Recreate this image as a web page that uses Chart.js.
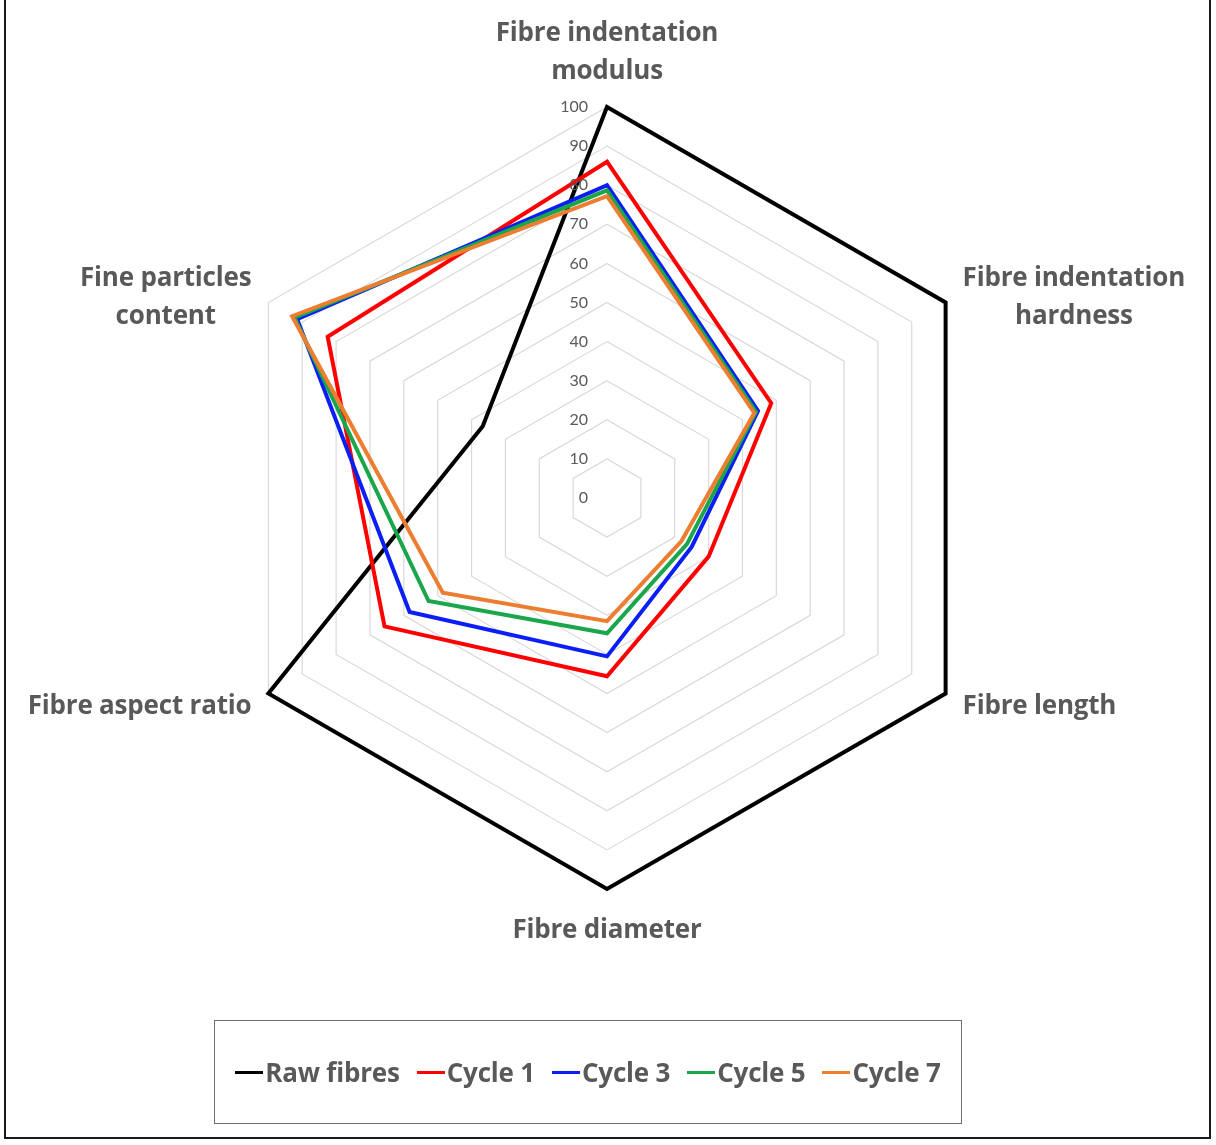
<!DOCTYPE html>
<html>
<head>
<meta charset="utf-8">
<title>Fibre properties radar</title>
<script src="https://cdn.jsdelivr.net/npm/chart.js@4/dist/chart.umd.min.js"></script>
<style>
  html, body { margin: 0; padding: 0; background: #fff; }
  #wrap { position: relative; width: 1216px; height: 1145px; overflow: hidden; font-family: "Open Sans", Lato, sans-serif; }
  #frame { position: absolute; left: 4px; top: -4px; width: 1207px; height: 1143px; border: 2px solid #1a1a1a; box-sizing: border-box; pointer-events: none; }
  #chart { position: absolute; left: 0; top: 0; }
  #legend { position: absolute; left: 214px; top: 1020px; width: 748px; height: 104px; box-sizing: border-box;
            border: 1px solid #6f6f6f; display: flex; align-items: center; justify-content: center; gap: 17px; }
  .item { display: flex; align-items: center; font-weight: bold; font-size: 26px; color: #595959; letter-spacing: -0.2px; }
  .swatch { width: 28px; height: 3px; margin-right: 2px; }
</style>
</head>
<body>
<div id="wrap">
  <canvas id="chart" width="1216" height="1145"></canvas>
  <div id="legend"></div>
  <div id="frame"></div>
</div>
<script>
// Axis categories (multi-line labels)
const categories = [
  ['Fibre indentation', 'modulus'],
  ['Fibre indentation', 'hardness'],
  ['Fibre length'],
  ['Fibre diameter'],
  ['Fibre aspect ratio'],
  ['Fine particles', 'content']
];

// Radial tick labels
const tickLabels = [0, 10, 20, 30, 40, 50, 60, 70, 80, 90, 100];

// Series values, one per category
const rawFibres = [100, 100, 100, 100, 100, 36.7];
const cycle1    = [86, 48.5, 30, 45.6, 65.7, 82.5];
const cycle3    = [80, 44.6, 25, 40.5, 58.3, 91.5];
const cycle5    = [78.7, 44, 23.6, 34.6, 52.7, 92.3];
const cycle7    = [77.2, 43.5, 22, 31.5, 48.5, 93];

const seriesNames  = ['Raw fibres', 'Cycle 1', 'Cycle 3', 'Cycle 5', 'Cycle 7'];
const seriesValues = [rawFibres, cycle1, cycle3, cycle5, cycle7];
const seriesColors = ['#000000', '#ff0000', '#0a1ef5', '#1aa64a', '#ed7d31'];

const TEXT = '#595959';

// Tick labels to the left of the vertical axis
const tickLabelPlugin = {
  id: 'tickLabelsLeft',
  afterDatasetsDraw(chart) {
    const s = chart.scales.r;
    const ctx = chart.ctx;
    ctx.save();
    ctx.font = '16px Lato, "DejaVu Sans", sans-serif';
    ctx.fillStyle = TEXT;
    ctx.textAlign = 'right';
    ctx.textBaseline = 'middle';
    tickLabels.forEach(v => {
      const y = s.yCenter - s.getDistanceFromCenterForValue(v);
      ctx.fillText(String(v), s.xCenter - 19, y);
    });
    ctx.restore();
  }
};

// Category labels around the outer ring
const categoryLabelPlugin = {
  id: 'categoryLabels',
  afterDraw(chart) {
    const s = chart.scales.r;
    const ctx = chart.ctx;
    const lh = 38;
    ctx.save();
    ctx.font = 'bold 26px "Open Sans", Lato, sans-serif';
    if ('letterSpacing' in ctx) ctx.letterSpacing = '-0.2px';
    ctx.fillStyle = TEXT;
    ctx.textBaseline = 'middle';
    ctx.textAlign = 'center';
    chart.data.labels.forEach((lines, i) => {
      const p = s.getPointPosition(i, s.drawingArea);
      const n = lines.length;
      const maxW = Math.max(...lines.map(t => ctx.measureText(t).width));
      const dx = p.x - s.xCenter;
      const dy = p.y - s.yCenter;
      let cx, firstY;
      if (Math.abs(dx) < 1) {
        cx = p.x;
        firstY = dy < 0 ? p.y - 35 - (n - 1) * lh : p.y + 42;
      } else {
        cx = dx > 0 ? p.x + 17 + maxW / 2 : p.x - 17 - maxW / 2;
        const midY = dy < 0 ? p.y - 5 : p.y + 13;
        firstY = midY - (n - 1) * lh / 2;
      }
      lines.forEach((t, k) => ctx.fillText(t, cx, firstY + k * lh));
    });
    ctx.restore();
  }
};

const datasets = seriesNames.map((name, i) => ({
  label: name,
  data: seriesValues[i],
  borderColor: seriesColors[i],
  backgroundColor: seriesColors[i],
  borderWidth: 4,
  borderJoinStyle: 'miter',
  pointRadius: 0,
  pointHoverRadius: 0,
  fill: false,
  order: seriesNames.length - i
}));

new Chart(document.getElementById('chart'), {
  type: 'radar',
  data: { labels: categories, datasets },
  options: {
    responsive: false,
    animation: false,
    devicePixelRatio: 1,
    layout: { padding: { left: 216, right: 218, top: 107, bottom: 256 } },
    plugins: { legend: { display: false }, tooltip: { enabled: false } },
    elements: { line: { tension: 0 } },
    scales: {
      r: {
        min: 0,
        max: 100,
        ticks: { display: false, stepSize: 10 },
        pointLabels: { display: false },
        angleLines: { display: false },
        grid: { color: '#d9d9d9', lineWidth: 1.2 }
      }
    }
  },
  plugins: [tickLabelPlugin, categoryLabelPlugin]
});

// Legend box built from the series
const legend = document.getElementById('legend');
seriesNames.forEach((name, i) => {
  const item = document.createElement('div');
  item.className = 'item';
  const sw = document.createElement('span');
  sw.className = 'swatch';
  sw.style.background = seriesColors[i];
  const tx = document.createElement('span');
  tx.textContent = name;
  item.appendChild(sw);
  item.appendChild(tx);
  legend.appendChild(item);
});
</script>
</body>
</html>
